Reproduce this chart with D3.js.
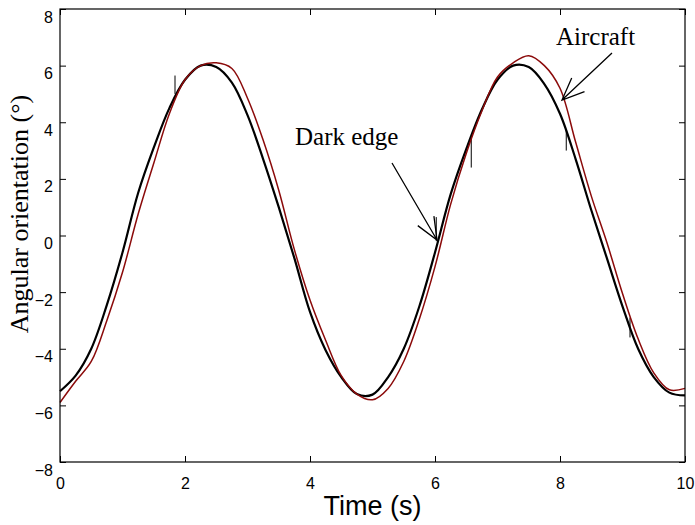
<!DOCTYPE html>
<html lang="en">
<head>
  <meta charset="UTF-8" />
  <title>Angular orientation vs time</title>
  <style>
    body { margin: 0; background: #fff; }
    .tick text { font-family: "Liberation Sans", Arial, sans-serif; font-size: 16px; fill: #000; }
    .tick line { stroke: #000; stroke-width: 1; }
    .serif { font-family: "Liberation Serif", "Times New Roman", serif; fill: #000; }
    .sans { font-family: "Liberation Sans", Arial, sans-serif; fill: #000; }
  </style>
</head>
<body>
  <div id="chart"></div>
  <script src="https://d3js.org/d3.v7.min.js"></script>
  <script>
    // time samples (s)
    var time = [0, 0.25, 0.5, 0.75, 1, 1.25, 1.5, 1.75, 2, 2.25, 2.5, 2.75, 3, 3.25, 3.5, 3.75,
                4, 4.25, 4.5, 4.75, 5, 5.25, 5.5, 5.75, 6, 6.25, 6.5, 6.75, 7, 7.25, 7.5, 7.75,
                8, 8.25, 8.5, 8.75, 9, 9.25, 9.5, 9.75, 10];

    // dark edge (black)
    var darkEdge = [-5.5, -4.95, -4.0, -2.45, -0.6, 1.5, 3.1, 4.5, 5.5, 6.0, 5.95, 5.4, 4.25, 2.7, 1.0, -0.8,
                    -2.7, -4.05, -5.0, -5.6, -5.62, -5.0, -4.0, -2.5, -0.6, 1.45, 3.05, 4.45, 5.5, 6.0, 5.95, 5.35,
                    4.3, 2.7, 0.9, -0.8, -2.5, -4.0, -5.0, -5.55, -5.65];

    // aircraft (red)
    var aircraft = [-5.9, -5.15, -4.45, -3.0, -1.3, 0.75, 2.55, 4.3, 5.5, 6.0, 6.1, 5.9, 4.85, 3.37, 1.6, -0.5,
                    -2.28, -3.7, -4.95, -5.6, -5.8, -5.4, -4.45, -2.95, -1.1, 1.1, 2.9, 4.4, 5.6, 6.1, 6.35, 6.0,
                    5.2, 3.3, 1.4, -0.25, -2.05, -3.65, -4.85, -5.45, -5.4];

    // noise spikes on the dark edge trace: [t, low, high]
    var spikes = [[1.84, 5.0, 5.65], [6.02, -0.2, 0.65], [6.58, 2.4, 3.5], [8.1, 3.0, 3.75], [9.12, -3.6, -2.9]];

    var xTicks = [0, 2, 4, 6, 8, 10];
    var yTicks = [-8, -6, -4, -2, 0, 2, 4, 6, 8];

    var W = 695, H = 525;
    var margin = {top: 9, right: 10, bottom: 63, left: 60},
        width = W - margin.left - margin.right,
        height = H - margin.top - margin.bottom;

    var svg = d3.select("#chart").append("svg")
      .attr("width", W).attr("height", H);
    var g = svg.append("g")
      .attr("transform", "translate(" + margin.left + "," + margin.top + ")");

    var x = d3.scaleLinear().domain([0, 10]).range([0, width]);
    var y = d3.scaleLinear().domain([-8, 8]).range([height, 0]);

    // axes, ticks pointing inward
    g.append("g").attr("transform", "translate(0," + height + ")")
      .call(d3.axisBottom(x).tickValues(xTicks).tickSizeInner(-6).tickSizeOuter(0).tickPadding(16));
    g.append("g")
      .call(d3.axisTop(x).tickValues(xTicks).tickSizeInner(-6).tickSizeOuter(0).tickFormat(""));
    var yl = g.append("g")
      .call(d3.axisLeft(y).tickValues(yTicks).tickSizeInner(-6).tickSizeOuter(0).tickPadding(7));
    g.append("g").attr("transform", "translate(" + width + ",0)")
      .call(d3.axisRight(y).tickValues(yTicks).tickSizeInner(-6).tickSizeOuter(0).tickFormat(""));
    g.selectAll(".domain").remove();
    yl.selectAll("text").attr("dy", "13px");

    // data lines
    var line = function(vals) {
      return d3.line()
        .x(function(d, i) { return x(time[i]); })
        .y(function(d) { return y(d); })
        .curve(d3.curveCatmullRom.alpha(0.5))(vals);
    };

    g.append("path").attr("d", line(darkEdge))
      .attr("fill", "none").attr("stroke", "#000").attr("stroke-width", 2.2);

    g.selectAll(".spike").data(spikes).enter().append("line")
      .attr("x1", function(d) { return x(d[0]); })
      .attr("x2", function(d) { return x(d[0]); })
      .attr("y1", function(d) { return y(d[1]); })
      .attr("y2", function(d) { return y(d[2]); })
      .attr("stroke", "#000").attr("stroke-width", 1);

    g.append("path").attr("d", line(aircraft))
      .attr("fill", "none").attr("stroke", "#8b0a0a").attr("stroke-width", 1.5);

    // frame
    g.append("rect").attr("width", width).attr("height", height)
      .attr("fill", "none").attr("stroke", "#000").attr("stroke-width", 1.2);

    // annotations
    function arrow(x0, y0, x1, y1) {
      var a = Math.atan2(y1 - y0, x1 - x0), L = 24, s = 0.4;
      var p = "M" + x0 + "," + y0 + "L" + x1 + "," + y1 +
              "M" + (x1 - L * Math.cos(a - s)) + "," + (y1 - L * Math.sin(a - s)) + "L" + x1 + "," + y1 +
              "L" + (x1 - L * Math.cos(a + s)) + "," + (y1 - L * Math.sin(a + s));
      svg.append("path").attr("d", p).attr("fill", "none").attr("stroke", "#000").attr("stroke-width", 1.3);
    }
    svg.append("text").attr("class", "serif").attr("x", 295).attr("y", 145)
      .style("font-size", "25px").text("Dark edge");
    arrow(392, 163, 437, 240);
    svg.append("text").attr("class", "serif").attr("x", 556).attr("y", 45)
      .style("font-size", "25px").text("Aircraft");
    arrow(612, 53, 562, 100);

    // axis titles
    svg.append("text").attr("class", "sans").attr("x", margin.left + width / 2).attr("y", 515)
      .attr("text-anchor", "middle").style("font-size", "27px").text("Time (s)");
    svg.append("text").attr("class", "serif")
      .attr("transform", "translate(28," + 214 + ") rotate(-90)")
      .attr("text-anchor", "middle").style("font-size", "26px").text("Angular orientation (°)");
  </script>
</body>
</html>
